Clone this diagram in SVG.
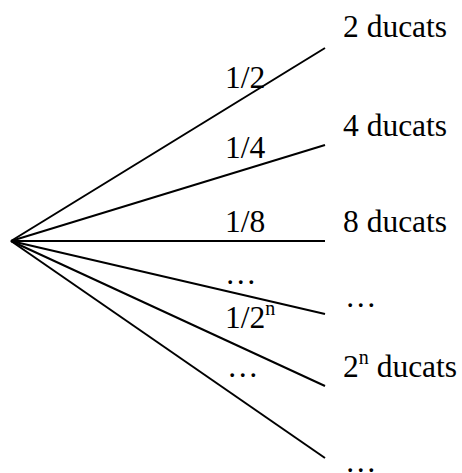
<svg xmlns="http://www.w3.org/2000/svg" width="462" height="473" viewBox="0 0 462 473">
<style>
.e{stroke:#000;stroke-width:2;fill:none}
.t{font-family:'Liberation Serif','Times New Roman','DejaVu Serif',serif;font-size:31.5px;fill:#000}
.sup{font-size:20px}
</style>
<rect width="462" height="473" fill="#fff"/>
<g id="connectors">
<line class="e" x1="11" y1="241" x2="325" y2="48"/>
<line class="e" x1="11" y1="241" x2="325" y2="145"/>
<line class="e" x1="11" y1="241" x2="325" y2="241"/>
<line class="e" x1="11" y1="241" x2="325" y2="314"/>
<line class="e" x1="11" y1="241" x2="325" y2="386"/>
<line class="e" x1="11" y1="241" x2="325" y2="458"/>
</g>
<g id="labels" class="t" font-family="Liberation Serif, serif">
<text x="225" y="88">1/2</text>
<text x="225" y="158">1/4</text>
<text x="225" y="232">1/8</text>
<text x="225" y="284">…</text>
<text x="225" y="328">1/2<tspan class="sup" dy="-13">n</tspan></text>
<text x="227" y="377">…</text>
</g>
<g id="n1" class="t"><text x="343" y="37">2 ducats</text></g>
<g id="n2" class="t"><text x="343" y="136">4 ducats</text></g>
<g id="n3" class="t"><text x="343" y="232">8 ducats</text></g>
<g id="n4" class="t"><text x="345" y="307">…</text></g>
<g id="n5" class="t"><text x="343" y="377">2<tspan class="sup" dy="-13">n</tspan><tspan dy="13"> ducats</tspan></text></g>
<g id="n6" class="t"><text x="345" y="472">…</text></g>
</svg>
